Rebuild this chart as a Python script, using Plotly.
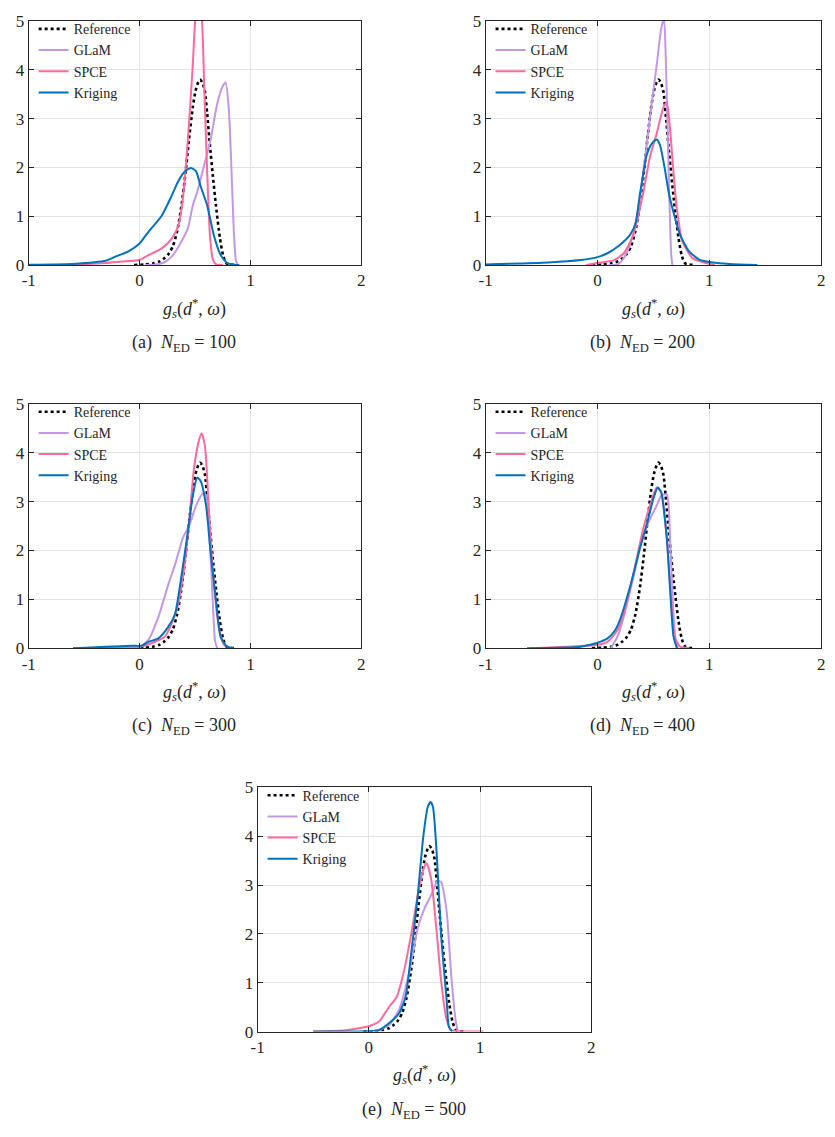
import plotly.graph_objects as go

# ---------------- data ----------------
SERIES_NAMES = ["Reference", "GLaM", "SPCE", "Kriging"]
PANEL_LETTERS = ["(a)", "(b)", "(c)", "(d)", "(e)"]
N_ED = [100, 200, 300, 400, 500]
X_TICKS = [-1, 0, 1, 2]
X_TICK_TEXT = ["-1", "0", "1", "2"]
Y_TICKS = [0, 1, 2, 3, 4, 5]

REF_X = [-0.05, 0.05, 0.12, 0.18, 0.22, 0.26, 0.30, 0.34, 0.38, 0.415, 0.445, 0.48, 0.505, 0.53,
         0.545, 0.565, 0.59, 0.61, 0.635, 0.66, 0.69, 0.725, 0.755, 0.785, 0.82, 0.86]
REF_Y = [0, 0.01, 0.03, 0.07, 0.13, 0.22, 0.38, 0.70, 1.25, 1.90, 2.55, 3.23, 3.57, 3.75,
         3.80, 3.75, 3.55, 3.10, 2.45, 1.85, 1.20, 0.55, 0.18, 0.03, 0.01, 0]

A_GLAM_X = [0.05, 0.15, 0.22, 0.29, 0.36, 0.435, 0.48, 0.52, 0.58, 0.64, 0.70, 0.745, 0.776, 0.805, 0.83, 0.85, 0.87, 0.885]
A_GLAM_Y = [0, 0.01, 0.05, 0.17, 0.41, 0.75, 1.22, 1.50, 2.02, 2.56, 3.30, 3.64, 3.74, 3.20, 1.90, 0.70, 0.08, 0]
A_SPCE_X = [-1, -0.6, -0.3, -0.16, 0, 0.08, 0.2, 0.29, 0.35, 0.39, 0.42, 0.45, 0.48, 0.505, 0.53, 0.56, 0.584, 0.61, 0.635, 0.66, 0.69, 0.75]
A_SPCE_Y = [0, 0.01, 0.04, 0.07, 0.10, 0.20, 0.34, 0.54, 0.81, 1.35, 2.09, 3.03, 4.10, 5.10, 5.40, 5.10, 3.60, 1.90, 0.60, 0.12, 0.01, 0]
A_KRIG_X = [-1, -0.6, -0.3, -0.22, -0.1, 0, 0.08, 0.2, 0.29, 0.35, 0.41, 0.465, 0.51, 0.55, 0.61, 0.67, 0.73, 0.79, 0.85, 0.9]
A_KRIG_Y = [0.005, 0.02, 0.09, 0.17, 0.28, 0.44, 0.68, 1.01, 1.42, 1.72, 1.92, 1.99, 1.92, 1.62, 1.22, 0.61, 0.21, 0.04, 0.005, 0]

B_GLAM_X = [0.10, 0.18, 0.235, 0.29, 0.35, 0.41, 0.47, 0.53, 0.57, 0.595, 0.61, 0.625, 0.64, 0.65, 0.66, 0.67]
B_GLAM_Y = [0, 0.01, 0.14, 0.41, 0.95, 1.89, 3.03, 4.10, 4.85, 5.05, 4.30, 3.00, 1.60, 0.80, 0.20, 0]
B_SPCE_X = [-0.1, 0, 0.15, 0.235, 0.32, 0.41, 0.47, 0.53, 0.59, 0.62, 0.65, 0.68, 0.71, 0.76, 0.85, 0.97, 1.05]
B_SPCE_Y = [0, 0.04, 0.10, 0.24, 0.61, 1.49, 2.22, 2.70, 3.23, 3.33, 2.76, 1.89, 1.15, 0.48, 0.14, 0.04, 0]
B_KRIG_X = [-1, -0.44, -0.15, 0, 0.09, 0.2, 0.29, 0.34, 0.38, 0.44, 0.49, 0.53, 0.56, 0.60, 0.64, 0.68, 0.74, 0.82, 0.91, 1.03, 1.18, 1.43]
B_KRIG_Y = [0.01, 0.05, 0.10, 0.16, 0.24, 0.41, 0.61, 0.85, 1.45, 2.25, 2.50, 2.57, 2.45, 2.00, 1.45, 1.08, 0.61, 0.28, 0.11, 0.05, 0.02, 0]

C_GLAM_X = [-0.1, 0, 0.08, 0.17, 0.26, 0.32, 0.39, 0.45, 0.51, 0.57, 0.60, 0.63, 0.66, 0.68, 0.70]
C_GLAM_Y = [0, 0.02, 0.17, 0.64, 1.31, 1.71, 2.25, 2.52, 2.92, 3.16, 3.12, 2.32, 0.97, 0.17, 0]
C_SPCE_X = [-0.6, 0, 0.14, 0.23, 0.29, 0.35, 0.41, 0.45, 0.49, 0.53, 0.56, 0.59, 0.63, 0.67, 0.72, 0.76, 0.82]
C_SPCE_Y = [0, 0.03, 0.13, 0.24, 0.50, 0.91, 1.78, 2.65, 3.66, 4.20, 4.40, 4.13, 2.65, 1.31, 0.37, 0.07, 0]
C_KRIG_X = [-0.6, -0.07, 0.02, 0.08, 0.17, 0.26, 0.32, 0.38, 0.44, 0.48, 0.52, 0.55, 0.60, 0.64, 0.69, 0.73, 0.79, 0.85]
C_KRIG_Y = [0, 0.05, 0.05, 0.13, 0.20, 0.44, 0.70, 1.51, 2.45, 3.12, 3.49, 3.43, 2.92, 1.98, 0.97, 0.24, 0.03, 0]

D_GLAM_X = [0.12, 0.18, 0.235, 0.32, 0.41, 0.47, 0.53, 0.57, 0.62, 0.65, 0.675, 0.70, 0.72]
D_GLAM_Y = [0, 0.24, 0.64, 1.44, 2.32, 2.65, 2.92, 3.12, 3.15, 2.20, 0.90, 0.15, 0]
D_SPCE_X = [-0.6, 0, 0.09, 0.18, 0.235, 0.32, 0.41, 0.47, 0.53, 0.57, 0.62, 0.66, 0.69, 0.74, 0.82]
D_SPCE_Y = [0, 0.07, 0.13, 0.37, 0.70, 1.51, 2.45, 2.92, 3.29, 3.19, 2.25, 0.97, 0.24, 0.03, 0]
D_KRIG_X = [-0.63, -0.15, 0, 0.09, 0.15, 0.2, 0.29, 0.38, 0.44, 0.50, 0.54, 0.57, 0.62, 0.65, 0.68, 0.71]
D_KRIG_Y = [0, 0.03, 0.11, 0.20, 0.34, 0.57, 1.24, 2.05, 2.52, 3.06, 3.29, 3.19, 2.25, 1.18, 0.24, 0]

E_GLAM_X = [0.06, 0.18, 0.27, 0.36, 0.44, 0.50, 0.56, 0.62, 0.65, 0.70, 0.74, 0.78, 0.80]
E_GLAM_Y = [0, 0.13, 0.44, 1.18, 2.12, 2.52, 2.79, 3.09, 3.06, 2.45, 1.18, 0.24, 0]
E_SPCE_X = [-0.5, -0.21, -0.09, 0, 0.09, 0.18, 0.25, 0.31, 0.38, 0.44, 0.49, 0.52, 0.56, 0.61, 0.65, 0.70, 0.74, 0.80, 1.03]
E_SPCE_Y = [0, 0.03, 0.07, 0.11, 0.20, 0.50, 0.71, 1.18, 1.98, 2.79, 3.33, 3.45, 3.13, 2.05, 1.04, 0.24, 0.03, 0.01, 0]
E_KRIG_X = [-0.5, 0, 0.09, 0.18, 0.27, 0.33, 0.38, 0.44, 0.49, 0.53, 0.556, 0.577, 0.61, 0.65, 0.70, 0.72, 0.75]
E_KRIG_Y = [0, 0.01, 0.03, 0.17, 0.37, 0.71, 1.58, 2.79, 4.00, 4.60, 4.70, 4.60, 3.66, 1.98, 0.64, 0.10, 0]

PANEL_SERIES = [
    [(REF_X, REF_Y), (A_GLAM_X, A_GLAM_Y), (A_SPCE_X, A_SPCE_Y), (A_KRIG_X, A_KRIG_Y)],
    [(REF_X, REF_Y), (B_GLAM_X, B_GLAM_Y), (B_SPCE_X, B_SPCE_Y), (B_KRIG_X, B_KRIG_Y)],
    [(REF_X, REF_Y), (C_GLAM_X, C_GLAM_Y), (C_SPCE_X, C_SPCE_Y), (C_KRIG_X, C_KRIG_Y)],
    [(REF_X, REF_Y), (D_GLAM_X, D_GLAM_Y), (D_SPCE_X, D_SPCE_Y), (D_KRIG_X, D_KRIG_Y)],
    [(REF_X, REF_Y), (E_GLAM_X, E_GLAM_Y), (E_SPCE_X, E_SPCE_Y), (E_KRIG_X, E_KRIG_Y)],
]

# ---------------- styling / layout ----------------
W, H = 835, 1137
FONT = "Liberation Serif"
AXC = "#262626"
STYLES = [
    dict(color="black", width=2.6, dash="dot"),
    dict(color="#C297E8", width=2),
    dict(color="#FF6A9A", width=2),
    dict(color="#0072BD", width=2),
]
# panel boxes in pixels: left, right, top, bottom
BOXES = [
    (22, 359, 12.3, 260.3),
    (485, 825, 12.3, 260.3),
    (22, 359, 401.7, 650),
    (485, 825, 401.7, 650),
    (254, 592, 791.7, 1040),
]

fig = go.Figure()
layout = dict(
    width=W, height=H, margin=dict(l=0, r=0, t=0, b=0),
    paper_bgcolor="white", plot_bgcolor="white",
    font=dict(family=FONT, color=AXC, size=17),
    annotations=[], shapes=[], showlegend=True,
)

for p, series in enumerate(PANEL_SERIES):
    k = "" if p == 0 else str(p + 1)
    left, right, top, bottom = BOXES[p]
    legname = "legend" + k
    for s, (xs, ys) in enumerate(series):
        fig.add_trace(go.Scatter(
            x=xs, y=ys, mode="lines", name=SERIES_NAMES[s],
            line=dict(shape="spline", smoothing=0.6, **STYLES[s]),
            xaxis="x" + k, yaxis="y" + k, legend=legname,
            hoverinfo="skip",
        ))
    common = dict(
        showline=True, linecolor=AXC, linewidth=1, mirror="ticks",
        ticks="inside", ticklen=5, tickcolor=AXC, tickwidth=1,
        showgrid=True, gridcolor="#e3e3e3", gridwidth=1, zeroline=False,
        tickfont=dict(family=FONT, size=17, color=AXC), fixedrange=True,
    )
    layout["xaxis" + k] = dict(
        domain=[left / W, right / W], range=[-1, 2], anchor="y" + k,
        tickmode="array", tickvals=X_TICKS, ticktext=X_TICK_TEXT, **common)
    layout["yaxis" + k] = dict(
        domain=[1 - bottom / H, 1 - top / H], range=[0, 5], anchor="x" + k,
        tickmode="array", tickvals=Y_TICKS, **common)
    layout[legname] = dict(
        x=(left + 5) / W, y=1 - (top - 8) / H, xanchor="left", yanchor="top",
        bgcolor="rgba(0,0,0,0)", borderwidth=0,
        font=dict(family=FONT, size=14, color=AXC),
        tracegroupgap=0, itemwidth=30, itemclick=False, itemdoubleclick=False,
    )
    # white backdrop behind the legend (hides the grid like the original)
    layout["shapes"].append(dict(
        type="rect", xref="x" + k + " domain", yref="y" + k + " domain",
        x0=0.003, x1=0.30, y0=0.64, y1=0.995, layer="below",
        fillcolor="white", line=dict(width=0)))
    cx = (left + right) / 2
    layout["annotations"].append(dict(
        text="<i>g</i><sub><i>s</i></sub>(<i>d</i><sup>*</sup>, <i>ω</i>)",
        x=cx / W, y=1 - (bottom + 44) / H, xref="paper", yref="paper",
        xanchor="center", yanchor="middle", showarrow=False,
        font=dict(family=FONT, size=18, color=AXC)))
    layout["annotations"].append(dict(
        text=f"{PANEL_LETTERS[p]}  <i>N</i><sub>ED</sub> = {N_ED[p]}",
        x=(cx - 11) / W, y=1 - (bottom + 80) / H, xref="paper", yref="paper",
        xanchor="center", yanchor="middle", showarrow=False,
        font=dict(family=FONT, size=18, color=AXC)))

fig.update_layout(**layout)
fig.write_html("out.html")
